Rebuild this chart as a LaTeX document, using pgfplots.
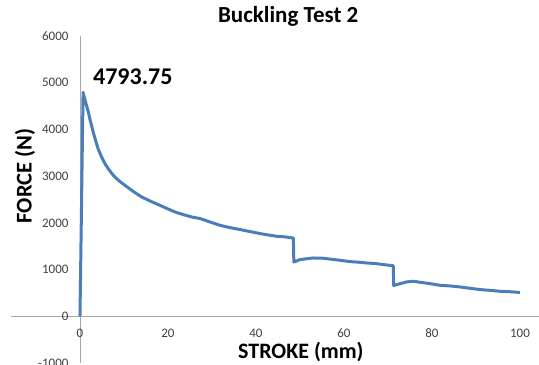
\documentclass[border=0pt]{standalone}
\usepackage{fontspec}
\setmainfont{Carlito}
\usepackage{pgfplots}
\pgfplotsset{compat=1.18}
\definecolor{excelblue}{HTML}{4A7EBB}
\definecolor{axisgray}{HTML}{A6A6A6}
\definecolor{ticktext}{HTML}{404040}
\begin{document}
\begin{tikzpicture}
\useasboundingbox (0,0) rectangle (539bp,365bp);
\clip (0,0) rectangle (539bp,365bp);
\begin{axis}[
  at={(11bp,2bp)}, anchor=south west,
  scale only axis, width=528bp, height=327bp,
  xmin=-15.68, xmax=104.32, ymin=-1000, ymax=6000,
  axis lines=middle,
  axis line style={-, axisgray, line width=0.9bp},
  xtick={0,20,...,100}, ytick={-1000,0,1000,2000,3000,4000,5000,6000},
  hide obscured x ticks=false, hide obscured y ticks=false,
  major tick length=0pt,
  tick label style={font=\fontsize{13bp}{15bp}\selectfont, text=ticktext},
  /pgf/number format/assume math mode=true,
  /pgf/number format/1000 sep={},
  xticklabel style={anchor=north, yshift=-9bp},
  yticklabel style={anchor=east, xshift=-8bp},
  title={Buckling Test 2},
  every axis title/.style={at={(axis description cs:0.525,1.061)}, anchor=center, font=\bfseries\fontsize{23bp}{27bp}\selectfont},
  xlabel={STROKE (mm)},
  every axis x label/.style={at={(axis description cs:0.549,0.0336)}, anchor=center, font=\bfseries\fontsize{22bp}{26bp}\selectfont},
  ylabel={FORCE (N)},
  every axis y label/.style={at={(axis description cs:0.0265,0.572)}, anchor=center, rotate=90, font=\bfseries\fontsize{22.5bp}{26bp}\selectfont},
  clip=false,
]
\addplot[excelblue, line width=3bp, line join=round, no marks] coordinates {
(0,0) (0.35,2400) (0.7,4793.75) (1.0,4680) (1.4,4540) (1.9,4374) (2.3,4200)
(2.7,4060) (3.0,3940) (3.4,3810) (4.1,3590) (4.9,3411) (5.6,3280) (6.4,3162)
(7.2,3060) (8,2975) (9,2890) (10.2,2805) (12,2680) (14,2554) (16,2465)
(17.8,2391) (19.7,2310) (21.6,2233) (23.5,2175) (25.4,2126) (27.3,2092)
(29.5,2020) (31.8,1948) (34,1900) (36.4,1856) (38.6,1815) (40.9,1771)
(42.8,1740) (44.7,1713) (46.6,1700) (48.5,1675) (48.6,1160) (50,1214)
(53,1248) (55,1245) (56.8,1225) (59,1200) (61.4,1170) (63.3,1158)
(65.2,1141) (67,1130) (68.9,1107) (71.2,1082) (71.3,660) (72.8,700)
(74.2,735) (75.8,750) (77.5,725) (79.5,700) (81.8,664) (84,650)
(86.4,628) (88.6,600) (90.9,572) (93.2,555) (95.5,535) (97.8,525) (100,510)
};
\node[font=\bfseries\fontsize{24bp}{28bp}\selectfont, text=black] at (axis cs:12,5138) {4793.75};
\end{axis}
\end{tikzpicture}
\end{document}
